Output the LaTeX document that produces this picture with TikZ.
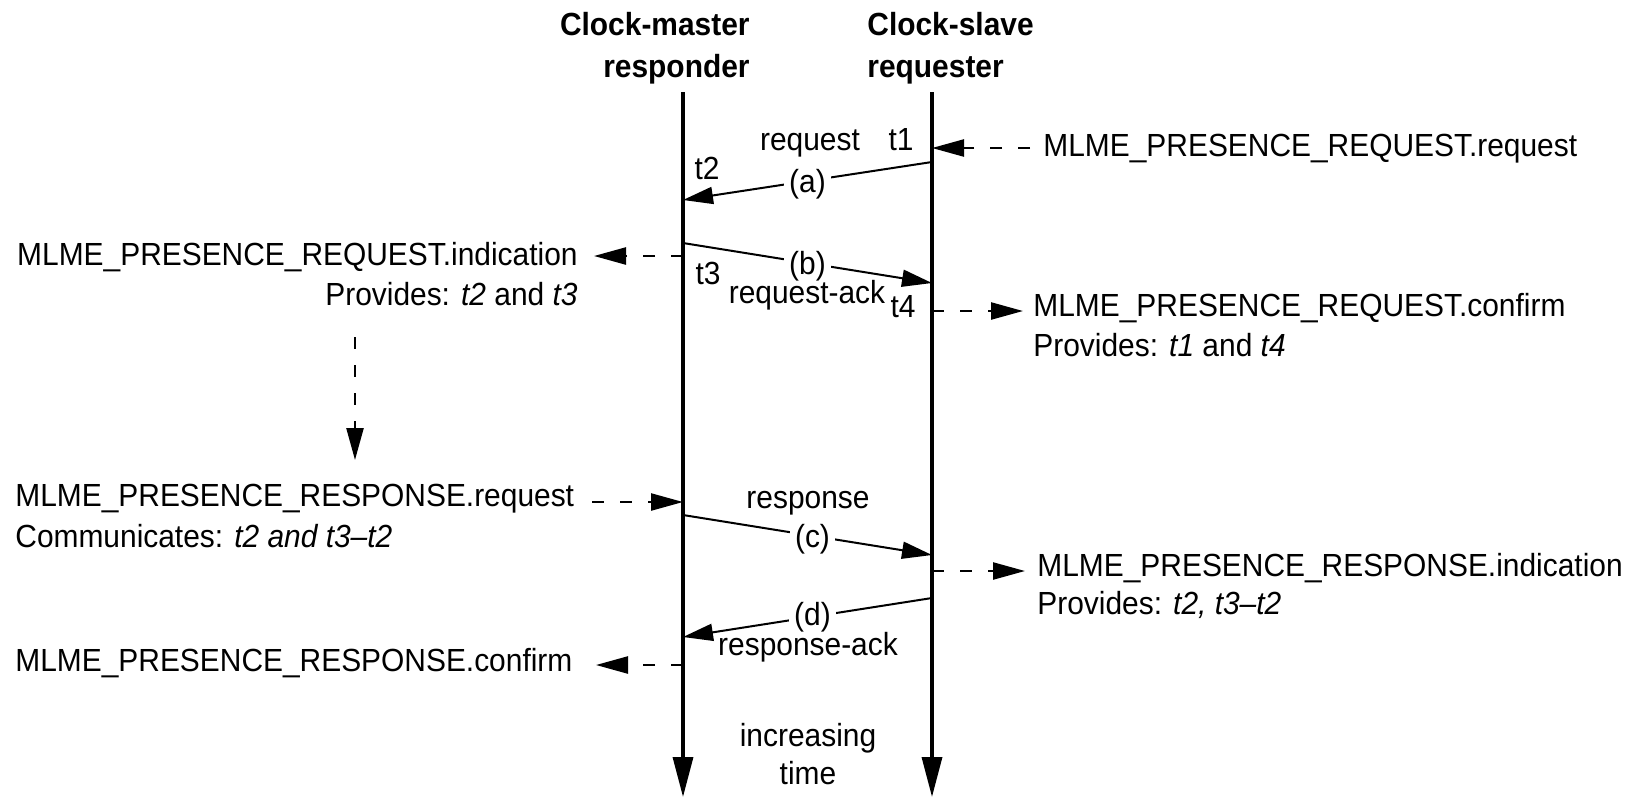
\documentclass[tikz,border=0pt]{standalone}
\usepackage{fontspec}
\setmainfont{Liberation Sans}[FakeStretch=0.935]
\usetikzlibrary{arrows.meta}
\begin{document}
\begin{tikzpicture}[x=0.5pt,y=-0.5pt,
  txt/.style={inner sep=0pt, text height=11.5pt, text depth=0pt, font=\fontsize{16}{20}\selectfont},
  hdr/.style={txt, font=\fontsize{16}{20}\selectfont\bfseries},
  lbl/.style={txt, fill=white, inner xsep=2.5pt, inner ysep=0.5pt},
  life/.style={line width=1.7pt, -{Triangle[length=20pt,width=10pt]}},
  msg/.style={line width=1pt, -{Triangle[length=15pt,width=8.5pt]}},
  prim/.style={line width=1.2pt, dash pattern=on 6pt off 8pt, -{Triangle[length=16pt,width=8.5pt]}}]
\useasboundingbox (0,0) rectangle (1639,799);

% headers
\node[hdr, anchor=east] (cm1) at (750,24) {Clock-master};
\node[hdr, anchor=east] (cm2) at (750,66) {responder};
\node[hdr, anchor=west] (cs1) at (867,24) {Clock-slave};
\node[hdr, anchor=west] (cs2) at (867,66) {requester};

% lifelines
\coordinate (Ltop) at (683,92);
\coordinate (Lbot) at (683,797);
\coordinate (Rtop) at (932,92);
\coordinate (Rbot) at (932,797);
\draw[life] (Ltop) -- (Lbot);
\draw[life] (Rtop) -- (Rbot);

% message endpoints
\coordinate (a1) at (932,162); \coordinate (a2) at (683,200);
\coordinate (b1) at (683,243); \coordinate (b2) at (932,283);
\coordinate (c1) at (683,515); \coordinate (c2) at (932,555);
\coordinate (d1) at (932,598); \coordinate (d2) at (683,637);

\draw[msg] (a1) -- node[lbl, pos=0.5] (la) {(a)} (a2);
\draw[msg] (b1) -- node[lbl, pos=0.5] (lb) {(b)} (b2);
\draw[msg] (c1) -- node[lbl, pos=0.52] (lc) {(c)} (c2);
\draw[msg] (d1) -- node[lbl, pos=0.48, yshift=1.5pt] (ld) {(d)} (d2);

% message labels
\node[txt] (treq) at (810,139) {request};
\node[txt] (tt1) at (901,139) {t1};
\node[txt] (tt2) at (707,168) {t2};
\node[txt] (tt3) at (708,273) {t3};
\node[txt] (treqack) at (807,292) {request-ack};
\node[txt] (tt4) at (903,306) {t4};
\node[txt] (tresp) at (808,497) {response};
\node[txt] (trespack) at (808,644) {response-ack};
\node[txt] (tinc) at (808,735) {increasing};
\node[txt] (ttime) at (808,773) {time};

% right primitives
\node[txt, anchor=west] (reqreq) at (1043,145) {MLME\_PRESENCE\_REQUEST.request};
\coordinate (pA) at (1030,148);
\coordinate (pAL) at (932,148);
\draw[prim] (pA) -- (pAL);

\node[txt, anchor=west] (reqconf) at (1033,305) {MLME\_PRESENCE\_REQUEST.confirm};
\node[txt, anchor=west] (reqconf2) at (1033,345) {Provides: \textit{t1} and \textit{t4}};
\coordinate (pB) at (932,311);
\coordinate (pBe) at (1023,311);
\draw[prim] (pB) -- (pBe);

\node[txt, anchor=west] (respind) at (1037,565) {MLME\_PRESENCE\_RESPONSE.indication};
\node[txt, anchor=west] (respind2) at (1037,603) {Provides: \textit{t2, t3–t2}};
\coordinate (pC) at (932,571);
\coordinate (pCe) at (1025,571);
\draw[prim] (pC) -- (pCe);

% left primitives
\node[txt, anchor=east] (reqind) at (578,254) {MLME\_PRESENCE\_REQUEST.indication};
\node[txt, anchor=east] (reqind2) at (578,294) {Provides: \textit{t2} and \textit{t3}};
\coordinate (pD) at (683,256);
\coordinate (pDe) at (594,256);
\draw[prim] (pD) -- (pDe);

\coordinate (vA) at (355,337);
\coordinate (vB) at (355,460);
\draw[prim] (vA) -- (vB);

\node[txt, anchor=west] (respreq) at (15,495) {MLME\_PRESENCE\_RESPONSE.request};
\node[txt, anchor=west] (respreq2) at (15,536) {Communicates: \textit{t2 and t3–t2}};
\coordinate (pE) at (592,502);
\coordinate (pEe) at (683,502);
\draw[prim] (pE) -- (pEe);

\node[txt, anchor=west] (respconf) at (15,660) {MLME\_PRESENCE\_RESPONSE.confirm};
\coordinate (pF) at (683,665);
\coordinate (pFe) at (596,665);
\draw[prim] (pF) -- (pFe);
\end{tikzpicture}
\end{document}
